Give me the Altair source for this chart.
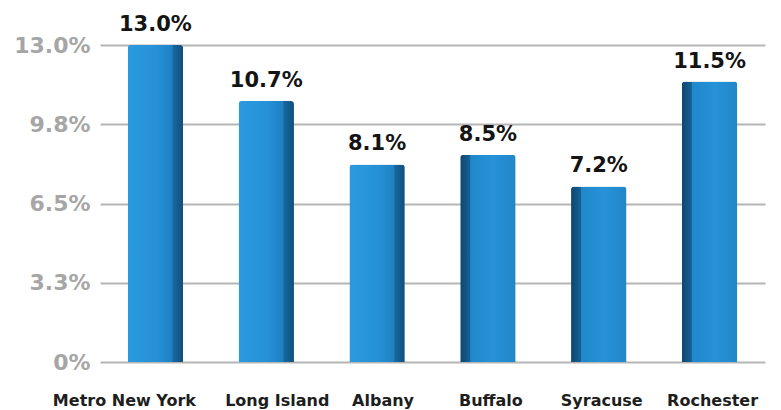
import altair as alt
import pandas as pd

regions = ["Metro New York", "Long Island", "Albany", "Buffalo", "Syracuse", "Rochester"]
rates = [13.0, 10.7, 8.1, 8.5, 7.2, 11.5]
y_ticks = [0, 3.25, 6.5, 9.75, 13.0]

df = pd.DataFrame({"region": regions, "rate": rates, "idx": list(range(len(regions)))})

W, H = 665, 317
FONT = "DejaVu Sans"

label_offset = {
    "condition": [
        {"test": "datum.value == 'Metro New York'", "value": -31},
        {"test": "datum.value == 'Long Island'", "value": 11},
        {"test": "datum.value == 'Albany'", "value": 6},
    ],
    "value": 3,
}

x_enc = alt.X("region:N", sort=regions,
              scale=alt.Scale(paddingInner=0.5, paddingOuter=0.25),
              axis=alt.Axis(title=None, labelAngle=0, labelFontSize=16, labelFont=FONT,
                            labelFontWeight="bold", labelColor="#1e1e1e", labelPadding=30,
                            labelOffset=label_offset,
                            domain=False, ticks=False, grid=False))
y_enc = alt.Y("rate:Q", scale=alt.Scale(domain=[0, 13.0], nice=False),
              axis=alt.Axis(title=None, values=y_ticks,
                            labelExpr="datum.value == 0 ? '0%' : format(datum.value, '.1f') + '%'",
                            labelFontSize=22, labelFont=FONT, labelFontWeight="bold",
                            labelColor="#a6a6a6", labelPadding=10, domain=False, ticks=False,
                            grid=True, gridColor="#b5b5b5", gridWidth=2))

grad_right_dark = alt.Gradient(
    gradient="linear", x1=0, x2=1, y1=0, y2=0,
    stops=[alt.GradientStop(offset=0, color="#2c9ae0"),
           alt.GradientStop(offset=0.55, color="#2590d6"),
           alt.GradientStop(offset=0.8, color="#1f80c2"),
           alt.GradientStop(offset=0.82, color="#17689f"),
           alt.GradientStop(offset=1, color="#0f4f7c")])
grad_left_dark = alt.Gradient(
    gradient="linear", x1=0, x2=1, y1=0, y2=0,
    stops=[alt.GradientStop(offset=0, color="#0e4670"),
           alt.GradientStop(offset=0.17, color="#165f93"),
           alt.GradientStop(offset=0.19, color="#2088cc"),
           alt.GradientStop(offset=0.6, color="#2692d8"),
           alt.GradientStop(offset=1, color="#2386c9")])

base = alt.Chart(df)

bars_left = base.transform_filter("datum.idx < 3").mark_bar(
    color=grad_right_dark, cornerRadiusTopLeft=3, cornerRadiusTopRight=3
).encode(x=x_enc, y=y_enc)

bars_right = base.transform_filter("datum.idx >= 3").mark_bar(
    color=grad_left_dark, cornerRadiusTopLeft=3, cornerRadiusTopRight=3
).encode(x=x_enc, y=y_enc)

labels = base.transform_calculate(
    lbl="format(datum.rate, '.1f') + '%'"
).mark_text(
    dy=-10, baseline="bottom", fontSize=21, font=FONT, fontWeight="bold", color="#141414"
).encode(x=alt.X("region:N", sort=regions), y="rate:Q", text="lbl:N")

chart = alt.layer(bars_left, bars_right, labels).properties(
    width=W, height=H,
    autosize=alt.AutoSizeParams(type="none"),
    padding={"left": 100, "top": 45, "right": 16, "bottom": 48},
    background="white",
).configure_view(stroke=None)

chart.save("out.html", embed_options={"renderer": "svg", "actions": False})
